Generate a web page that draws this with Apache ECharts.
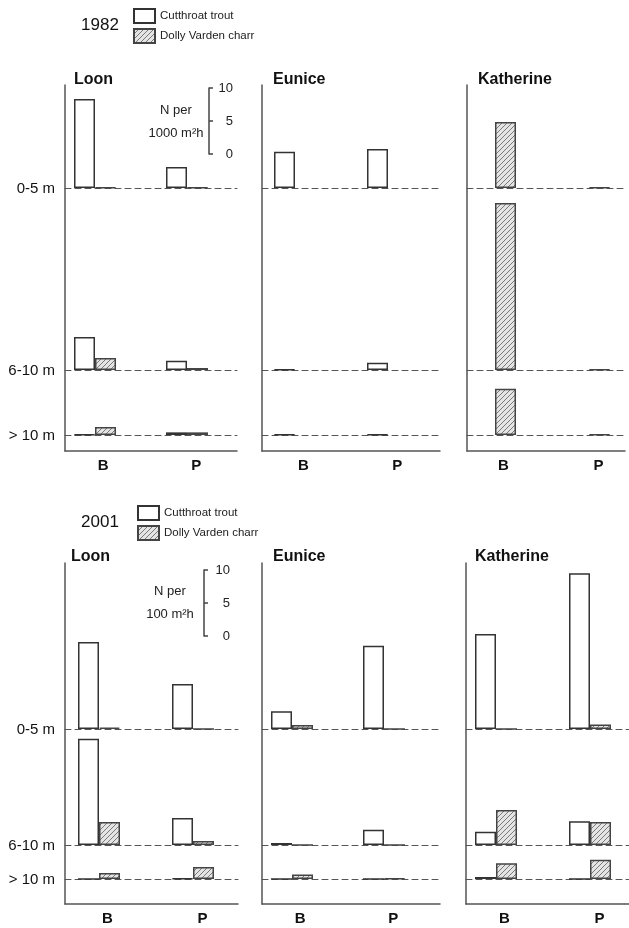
<!DOCTYPE html>
<html>
<head>
<meta charset="utf-8">
<script src="https://cdn.jsdelivr.net/npm/echarts@6/dist/echarts.min.js"></script>
<style>
  html, body { margin: 0; padding: 0; background: #fff; }
  #main { width: 629px; height: 928px; }
</style>
</head>
<body>
<div id="main"></div>
<script>
// 数据：每个数组按深度（0-5 m, 6-10 m, > 10 m）分行，每行 [B, P]
const years = ['1982', '2001'];
const lakes = ['Loon', 'Eunice', 'Katherine'];
const depths = ['0-5 m', '6-10 m', '> 10 m'];
const sites = ['B', 'P'];
const speciesNames = ['Cutthroat trout', 'Dolly Varden charr'];

const loonTrout1982 = [[13.5, 3.2], [5.0, 1.4], [0.1, 0.4]];
const loonCharr1982 = [[0.1, 0.1], [1.8, 0.3], [1.2, 0.4]];
const euniceTrout1982 = [[5.5, 5.9], [0.1, 1.1], [0.1, 0.1]];
const euniceCharr1982 = [[null, null], [null, null], [null, null]];
const katherineTrout1982 = [[null, null], [null, null], [null, null]];
const katherineCharr1982 = [[10.0, 0.1], [25.3, 0.1], [7.0, 0.1]];

const loonTrout2001 = [[13.2, 6.8], [16.1, 4.1], [0, 0.1]];
const loonCharr2001 = [[0.2, 0], [3.5, 0.6], [0.9, 1.8]];
const euniceTrout2001 = [[2.7, 12.6], [0.3, 2.3], [0, 0]];
const euniceCharr2001 = [[0.6, 0], [0, 0], [0.7, 0.1]];
const katherineTrout2001 = [[14.4, 23.6], [2.0, 3.6], [0.3, 0]];
const katherineCharr2001 = [[0, 0.7], [5.3, 3.5], [2.4, 2.9]];

const scaleTicks = [0, 5, 10];
const scaleUnits = { '1982': '1000 m²h', '2001': '100 m²h' };

const dataSets = {
  '1982': {
    Loon: [loonTrout1982, loonCharr1982],
    Eunice: [euniceTrout1982, euniceCharr1982],
    Katherine: [katherineTrout1982, katherineCharr1982]
  },
  '2001': {
    Loon: [loonTrout2001, loonCharr2001],
    Eunice: [euniceTrout2001, euniceCharr2001],
    Katherine: [katherineTrout2001, katherineCharr2001]
  }
};

// 版面
const PX_PER_UNIT = 6.6;
const FONT = 'Liberation Sans, Arial, sans-serif';
const layout = {
  '1982': {
    top: 85, bottom: 451, baselines: [188, 370, 435],
    yearY: 25, legendTop: 8, legendLeft: 133, titleY: 80,
    scale: { x: 209, top: 88, labelMargin: 24, nameX: 176, nameY: 110 },
    // [轴线x, 底线终点x, B中心, P中心]
    lakes: { Loon: [65, 237, 95, 187], Eunice: [262, 440, 295, 388], Katherine: [467, 625, 495, 589] },
    titleX: { Loon: 74, Eunice: 273, Katherine: 478 }
  },
  '2001': {
    top: 563, bottom: 904, baselines: [729, 845, 879],
    yearY: 522, legendTop: 505, legendLeft: 137, titleY: 557,
    scale: { x: 204, top: 570, labelMargin: 26, nameX: 170, nameY: 591 },
    lakes: { Loon: [65, 238, 99, 193], Eunice: [262, 440, 292, 384], Katherine: [466, 629, 496, 590] },
    titleX: { Loon: 71, Eunice: 273, Katherine: 475 }
  }
};

// 斜线填充
function hatch() {
  const c = document.createElement('canvas');
  c.width = 5; c.height = 5;
  const ctx = c.getContext('2d');
  ctx.fillStyle = '#e4e4e4';
  ctx.fillRect(0, 0, 5, 5);
  ctx.strokeStyle = '#7a7a7a';
  ctx.lineWidth = 1;
  ctx.beginPath();
  ctx.moveTo(-1, 6); ctx.lineTo(6, -1);
  ctx.moveTo(-1, 1); ctx.lineTo(1, -1);
  ctx.moveTo(4, 6); ctx.lineTo(6, 4);
  ctx.stroke();
  return c;
}
const hatchPattern = { image: hatch(), repeat: 'repeat' };
const speciesStyle = [
  { color: '#ffffff', borderColor: '#333', borderWidth: 1.5 },
  { color: hatchPattern, borderColor: '#444', borderWidth: 1.5 }
];

const grids = [], xAxes = [], yAxes = [], series = [], graphics = [], legends = [];

function hiddenY(max) {
  return { type: 'value', min: 0, max: max, gridIndex: grids.length - 1, show: false };
}

years.forEach(function (year) {
  const L = layout[year];

  // 年份与图例
  graphics.push({ type: 'text', x: 100, y: L.yearY,
    style: { text: year, font: '17px ' + FONT, fill: '#111', textAlign: 'center', textVerticalAlign: 'middle' } });
  legends.push({
    left: L.legendLeft, top: L.legendTop, orient: 'vertical', icon: 'rect', padding: 0,
    itemWidth: 21, itemHeight: 14, itemGap: 4,
    textStyle: { fontSize: 11.5, color: '#222', fontFamily: FONT },
    data: speciesNames, selectedMode: false
  });

  // 深度标签
  depths.forEach(function (d, i) {
    graphics.push({ type: 'text', x: 55, y: L.baselines[i] + 1,
      style: { text: d, font: '15px ' + FONT, fill: '#111', textAlign: 'right', textVerticalAlign: 'middle' } });
  });

  // 比例尺
  grids.push({ left: L.scale.x - 10, width: 10, top: L.scale.top, height: 10 * PX_PER_UNIT });
  xAxes.push({ type: 'value', gridIndex: grids.length - 1, show: false, min: 0, max: 1 });
  yAxes.push({
    type: 'value', gridIndex: grids.length - 1, position: 'right', min: scaleTicks[0], max: scaleTicks[2], interval: 5,
    axisLine: { show: true, onZero: false, lineStyle: { color: '#444', width: 1.5 } },
    axisTick: { show: true, length: 4, lineStyle: { color: '#444', width: 1.5 } },
    axisLabel: { align: 'right', margin: L.scale.labelMargin, fontSize: 13, color: '#222', fontFamily: FONT },
    splitLine: { show: false }
  });
  graphics.push({ type: 'text', x: L.scale.nameX, y: L.scale.nameY,
    style: { text: 'N per', font: '13px ' + FONT, fill: '#222', textAlign: 'center', textVerticalAlign: 'middle' } });
  graphics.push({ type: 'text', x: L.scale.nameX, y: L.scale.nameY + 23,
    style: { text: scaleUnits[year], font: '13px ' + FONT, fill: '#222', textAlign: 'center', textVerticalAlign: 'middle' } });

  lakes.forEach(function (lake) {
    const p = L.lakes[lake];
    const ax = p[0], end = p[1], cB = p[2], cP = p[3];
    const step = cP - cB;
    const xMin = 1 - (cB - ax) / step;
    const xMax = 1 + (end - cB) / step;

    graphics.push({ type: 'text', x: L.titleX[lake], y: L.titleY,
      style: { text: lake, font: 'bold 16px ' + FONT, fill: '#111', textAlign: 'left', textVerticalAlign: 'middle' } });

    // 外框：竖轴 + 底线 + B/P
    grids.push({ left: ax, width: end - ax, top: L.top, height: L.bottom - L.top });
    xAxes.push({
      type: 'value', gridIndex: grids.length - 1, min: xMin, max: xMax,
      axisLine: { show: true, onZero: false, lineStyle: { color: '#555', width: 1.5 } },
      axisTick: { show: false }, splitLine: { show: false },
      axisLabel: {
        customValues: [1.09, 2.1], margin: 7,
        fontSize: 15, fontWeight: 'bold', color: '#111', fontFamily: FONT,
        formatter: function (v) { return v < 1.5 ? sites[0] : sites[1]; }
      }
    });
    yAxes.push({
      type: 'value', gridIndex: grids.length - 1, min: 0, max: 1,
      axisLine: { show: true, onZero: false, lineStyle: { color: '#555', width: 1.5 } },
      axisTick: { show: false }, axisLabel: { show: false }, splitLine: { show: false }
    });

    // 每个深度一层
    depths.forEach(function (d, i) {
      const bandTop = i === 0 ? L.top : L.baselines[i - 1];
      const base = L.baselines[i];
      grids.push({ left: ax, width: end - ax, top: bandTop, height: base - bandTop });
      const gi = grids.length - 1;
      xAxes.push({
        type: 'value', gridIndex: gi, min: xMin, max: xMax,
        axisLine: { show: true, onZero: false, lineStyle: { color: '#555', width: 1, type: [6, 4] } },
        axisTick: { show: false }, axisLabel: { show: false }, splitLine: { show: false }
      });
      yAxes.push(hiddenY((base - bandTop) / PX_PER_UNIT));

      speciesNames.forEach(function (name, s) {
        const row = dataSets[year][lake][s][i];
        series.push({
          type: 'bar', name: name,
          xAxisIndex: xAxes.length - 1, yAxisIndex: yAxes.length - 1,
          barWidth: 21, barGap: '0%',
          itemStyle: speciesStyle[s],
          emphasis: { disabled: true },
          data: row.map(function (v, k) { return [k + 1, v]; })
        });
      });
    });
  });
});

const chart = echarts.init(document.getElementById('main'), null, { renderer: 'canvas' });
chart.setOption({
  animation: false,
  backgroundColor: '#fff',
  textStyle: { fontFamily: FONT },
  legend: legends,
  grid: grids,
  xAxis: xAxes,
  yAxis: yAxes,
  series: series,
  graphic: graphics
});
</script>
</body>
</html>
